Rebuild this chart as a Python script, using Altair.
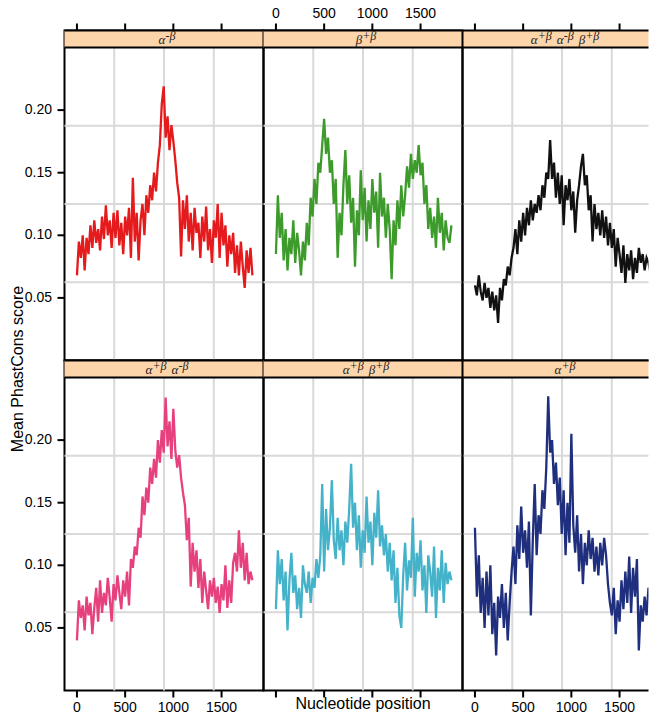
import altair as alt
import pandas as pd

# Nucleotide positions (bins of 20 nt)
positions = list(range(0, 1821, 20))

# Mean PhastCons score per panel
alpha_minus_beta = [
    0.068, 0.095, 0.082, 0.100, 0.072,
    0.098, 0.085, 0.108, 0.090, 0.112,
    0.094, 0.105, 0.088, 0.115, 0.097,
    0.124, 0.100, 0.112, 0.090, 0.118,
    0.098, 0.120, 0.092, 0.110, 0.085,
    0.115, 0.100, 0.122, 0.082, 0.146,
    0.095, 0.118, 0.080, 0.112, 0.125,
    0.100, 0.132, 0.118, 0.140, 0.128,
    0.150, 0.135, 0.158, 0.172, 0.205,
    0.219, 0.178, 0.195, 0.168, 0.188,
    0.175, 0.160, 0.142, 0.130, 0.083,
    0.128, 0.105, 0.132, 0.095, 0.118,
    0.088, 0.122, 0.102, 0.110, 0.082,
    0.115, 0.095, 0.123, 0.088, 0.105,
    0.078, 0.112, 0.098, 0.125, 0.082,
    0.118, 0.092, 0.108, 0.075, 0.100,
    0.085, 0.102, 0.070, 0.092, 0.068,
    0.095, 0.075, 0.058, 0.088, 0.070,
    0.090, 0.068,
]
beta_plus_beta = [
    0.085, 0.132, 0.098, 0.118, 0.080,
    0.105, 0.072, 0.098, 0.085, 0.112,
    0.078, 0.102, 0.088, 0.068, 0.095,
    0.080, 0.110, 0.092, 0.130, 0.115,
    0.145, 0.125, 0.158, 0.150, 0.172,
    0.193, 0.165, 0.178, 0.150, 0.160,
    0.125, 0.145, 0.082, 0.118, 0.100,
    0.140, 0.168, 0.125, 0.148, 0.110,
    0.130, 0.075, 0.120, 0.100, 0.152,
    0.112, 0.138, 0.095, 0.128, 0.105,
    0.145, 0.118, 0.135, 0.090, 0.150,
    0.115, 0.130, 0.098, 0.125, 0.105,
    0.065, 0.112, 0.092, 0.128, 0.105,
    0.140, 0.115, 0.132, 0.155, 0.138,
    0.165, 0.145, 0.160, 0.150, 0.172,
    0.148, 0.158, 0.125, 0.140, 0.105,
    0.122, 0.098, 0.115, 0.090, 0.130,
    0.102, 0.118, 0.088, 0.112, 0.098,
    0.094, 0.108,
]
all_three = [
    0.060, 0.052, 0.068, 0.055, 0.048,
    0.062, 0.050, 0.058, 0.042, 0.055,
    0.040, 0.052, 0.030, 0.058, 0.048,
    0.065, 0.060, 0.075, 0.068, 0.082,
    0.090, 0.105, 0.085, 0.112, 0.095,
    0.118, 0.100, 0.122, 0.108, 0.128,
    0.112, 0.125, 0.118, 0.132, 0.120,
    0.140, 0.130, 0.150, 0.145, 0.176,
    0.145, 0.158, 0.130, 0.150, 0.125,
    0.148, 0.108, 0.140, 0.128, 0.145,
    0.120, 0.135, 0.102, 0.128, 0.140,
    0.155, 0.165, 0.140, 0.148, 0.120,
    0.132, 0.095, 0.125, 0.105, 0.118,
    0.100, 0.120, 0.098, 0.115, 0.092,
    0.110, 0.090, 0.105, 0.075, 0.098,
    0.085, 0.070, 0.092, 0.062, 0.085,
    0.072, 0.088, 0.065, 0.082, 0.070,
    0.090, 0.078, 0.085, 0.072, 0.082,
    0.078, 0.070,
]
alpha_plus_alpha_minus = [
    0.040, 0.072, 0.058, 0.068, 0.048,
    0.075, 0.060, 0.070, 0.045, 0.066,
    0.082, 0.055, 0.088, 0.062, 0.078,
    0.068, 0.090, 0.074, 0.055, 0.085,
    0.072, 0.092, 0.078, 0.065, 0.088,
    0.075, 0.095, 0.068, 0.105, 0.098,
    0.115, 0.108, 0.130, 0.122, 0.155,
    0.140, 0.162, 0.150, 0.178, 0.165,
    0.185, 0.170, 0.200, 0.182, 0.208,
    0.190, 0.234, 0.195, 0.215, 0.185,
    0.225, 0.192, 0.178, 0.188, 0.170,
    0.158, 0.148, 0.120, 0.138, 0.083,
    0.118, 0.095, 0.112, 0.082, 0.105,
    0.070, 0.095, 0.080, 0.065, 0.088,
    0.075, 0.090, 0.070, 0.083, 0.062,
    0.085, 0.072, 0.100, 0.066, 0.088,
    0.070, 0.102, 0.110, 0.095, 0.128,
    0.098, 0.118, 0.088, 0.110, 0.085,
    0.095, 0.088,
]
alpha_plus_beta_plus = [
    0.065, 0.112, 0.085, 0.105, 0.072,
    0.095, 0.048, 0.088, 0.110, 0.078,
    0.092, 0.065, 0.082, 0.058, 0.100,
    0.085, 0.078, 0.095, 0.070, 0.090,
    0.082, 0.105, 0.090, 0.108, 0.165,
    0.095, 0.145, 0.112, 0.130, 0.168,
    0.120, 0.105, 0.138, 0.112, 0.128,
    0.100, 0.135, 0.118, 0.145, 0.181,
    0.130, 0.150, 0.112, 0.140, 0.098,
    0.128, 0.110, 0.155, 0.118, 0.135,
    0.100, 0.142, 0.122, 0.160, 0.115,
    0.132, 0.108, 0.125, 0.095, 0.118,
    0.088, 0.112, 0.070, 0.098, 0.060,
    0.050, 0.092, 0.118, 0.080, 0.104,
    0.090, 0.138, 0.075, 0.110, 0.095,
    0.120, 0.080, 0.100, 0.062, 0.108,
    0.095, 0.075, 0.115, 0.058, 0.098,
    0.080, 0.112, 0.070, 0.102, 0.085,
    0.095, 0.088,
]
alpha_plus_beta = [
    0.130, 0.075, 0.108, 0.062, 0.090,
    0.050, 0.095, 0.060, 0.100, 0.045,
    0.070, 0.028, 0.075, 0.058, 0.085,
    0.050, 0.078, 0.040, 0.070, 0.095,
    0.115, 0.085, 0.132, 0.105, 0.147,
    0.110, 0.128, 0.098, 0.135, 0.060,
    0.120, 0.165, 0.108, 0.140, 0.125,
    0.160, 0.145, 0.178, 0.235, 0.190,
    0.200, 0.165, 0.182, 0.148, 0.170,
    0.125, 0.160, 0.108, 0.150, 0.118,
    0.205, 0.132, 0.110, 0.140, 0.095,
    0.125, 0.085, 0.118, 0.100, 0.128,
    0.105, 0.122, 0.095, 0.115, 0.092,
    0.118, 0.100, 0.122, 0.108, 0.085,
    0.070, 0.060, 0.082, 0.045, 0.072,
    0.055, 0.088, 0.065, 0.095, 0.070,
    0.107, 0.062, 0.098, 0.075, 0.105,
    0.032, 0.068, 0.055, 0.075, 0.060,
    0.082, 0.078,
]

panel_series = [alpha_minus_beta, beta_plus_beta, all_three,
                alpha_plus_alpha_minus, alpha_plus_beta_plus, alpha_plus_beta]
# strip labels: (base letter, superscript) pairs
panel_labels = [
    [("α", "-β")],
    [("β", "+β")],
    [("α", "+β"), ("α", "-β"), ("β", "+β")],
    [("α", "+β"), ("α", "-β")],
    [("α", "+β"), ("β", "+β")],
    [("α", "+β")],
]
panel_colors = ["#E41A1C", "#3D9B2B", "#111111", "#E7407E", "#44B3CA", "#1F2F7D"]
y_title = "Mean PhastCons score"
x_title = "Nucleotide position"

x_ticks = [0, 500, 1000, 1500]
x_tick_labels = ["0", "500", "1000", "1500"]
y_ticks = [0.05, 0.10, 0.15, 0.20]
y_tick_labels = ["0.05", "0.10", "0.15", "0.20"]
x_grid = [387, 903, 1419]
y_grid = [0.0625, 0.125, 0.1875]

W_FULL, H, S = 199, 330, 17
W_LAST = 186                      # the right-hand column is cut by the frame
PX_PER_UNIT = W_FULL / 2064.0
X_LEFT = -129
Y_TOP = 0.25 * H / (H - S)        # top S px above 0.25 hold the strip
PEACH = "#FDD5AB"
GRID = "#D9D9D9"
NARROW = "Liberation Sans Narrow, Arial Narrow, Liberation Sans, sans-serif"
SANS = "Liberation Sans, Arial, sans-serif"
SERIF = "Liberation Serif, Times New Roman, serif"
TICK_FS = 14

BASE_FS, SUP_FS, RAISE = 13, 12, 4
CHAR_W = {"α": 0.53, "β": 0.50, "+": 0.675, "-": 0.333}
SPACE_W = 5.0


def seg_width(text, fs):
    return sum(CHAR_W.get(c, 0.5) for c in text) * fs


def strip_text_layers(label):
    segs = []
    for i, (base, sup) in enumerate(label):
        segs.append((base, False, SPACE_W if i > 0 else 0.0))
        segs.append((sup, True, 0.0))
    total = sum(seg_width(t, SUP_FS if s else BASE_FS) + g for t, s, g in segs)
    x0 = W_FULL / 2 + 3 - total / 2
    layers = []
    one = pd.DataFrame({"k": [0]})
    for t, s, gap in segs:
        x0 += gap
        layers.append(
            alt.Chart(one).mark_text(
                font=SERIF, fontStyle="italic", fontSize=SUP_FS if s else BASE_FS,
                baseline="alphabetic", align="left", color="#222222").encode(
                x=alt.value(x0), y=alt.value(13.5 - (RAISE if s else 0)),
                text=alt.value(t))
        )
        x0 += seg_width(t, SUP_FS if s else BASE_FS)
    return layers


def make_panel(values, color, label, row, col):
    W = W_LAST if col == 2 else W_FULL
    xs = alt.Scale(domain=[X_LEFT, X_LEFT + W / PX_PER_UNIT], nice=False, zero=False)
    ys = alt.Scale(domain=[0, Y_TOP], nice=False, zero=False)

    df = pd.DataFrame({"pos": positions, "val": values})
    one = pd.DataFrame({"k": [0]})
    xt = pd.DataFrame({"t": x_ticks, "lab": x_tick_labels})
    yt = pd.DataFrame({"t": y_ticks, "lab": y_tick_labels})

    layers = []
    layers.append(alt.Chart(pd.DataFrame({"g": x_grid})).mark_rule(
        color=GRID, strokeWidth=2).encode(
        x=alt.X("g:Q", scale=xs, axis=None), y=alt.value(S), y2=alt.value(H)))
    layers.append(alt.Chart(pd.DataFrame({"g": y_grid})).mark_rule(
        color=GRID, strokeWidth=2).encode(
        y=alt.Y("g:Q", scale=ys, axis=None), x=alt.value(0), x2=alt.value(W)))
    layers.append(alt.Chart(df).mark_line(color=color, strokeWidth=2.3, clip=True).encode(
        x=alt.X("pos:Q", scale=xs, axis=None),
        y=alt.Y("val:Q", scale=ys, axis=None),
    ))
    layers.append(alt.Chart(one).mark_rect(fill=PEACH).encode(
        x=alt.value(0), x2=alt.value(W), y=alt.value(0), y2=alt.value(S)))
    layers.append(alt.Chart(one).mark_rule(color="black", strokeWidth=2).encode(
        x=alt.value(0), x2=alt.value(W), y=alt.value(S)))
    layers.append(alt.Chart(one).mark_rule(color="black", strokeWidth=2).encode(
        x=alt.value(0), x2=alt.value(W), y=alt.value(0)))
    if col == 2:
        # border of the cut column: left and bottom edges only
        layers.append(alt.Chart(one).mark_rule(color="black", strokeWidth=2).encode(
            x=alt.value(0), y=alt.value(0), y2=alt.value(H)))
        layers.append(alt.Chart(one).mark_rule(color="black", strokeWidth=2).encode(
            x=alt.value(0), x2=alt.value(W), y=alt.value(H)))

    # x ticks and labels (lattice style: alternating)
    if row == 0:
        layers.append(alt.Chart(xt).mark_rule(color="black", strokeWidth=2).encode(
            x=alt.X("t:Q", scale=xs, axis=None), y=alt.value(-7), y2=alt.value(0)))
        if col == 1:
            layers.append(alt.Chart(xt).mark_text(
                font=NARROW, fontSize=TICK_FS, baseline="alphabetic", align="center",
                color="black").encode(
                x=alt.X("t:Q", scale=xs, axis=None), y=alt.value(-12.5), text="lab:N"))
    else:
        layers.append(alt.Chart(xt).mark_rule(color="black", strokeWidth=2).encode(
            x=alt.X("t:Q", scale=xs, axis=None), y=alt.value(H), y2=alt.value(H + 7)))
        if col != 1:
            layers.append(alt.Chart(xt).mark_text(
                font=NARROW, fontSize=TICK_FS, baseline="alphabetic", align="center",
                color="black").encode(
                x=alt.X("t:Q", scale=xs, axis=None), y=alt.value(H + 21.5), text="lab:N"))
    # y ticks and labels on the left column
    if col == 0:
        layers.append(alt.Chart(yt).mark_rule(color="black", strokeWidth=2).encode(
            y=alt.Y("t:Q", scale=ys, axis=None), x=alt.value(-7), x2=alt.value(0)))
        layers.append(alt.Chart(yt).mark_text(
            font=NARROW, fontSize=TICK_FS, baseline="middle", align="right",
            color="black").encode(
            y=alt.Y("t:Q", scale=ys, axis=None), x=alt.value(-12.5), text="lab:N"))

    layers.extend(strip_text_layers(label))
    if row == 0 and col == 0:
        layers.append(alt.Chart(one).mark_text(
            font=SANS, fontSize=16, angle=270, baseline="alphabetic", align="center",
            color="black").encode(
            x=alt.value(-41.5), y=alt.value(H + 8.5), text=alt.value(y_title)))
    if row == 1 and col == 1:
        layers.append(alt.Chart(one).mark_text(
            font=SANS, fontSize=16, baseline="alphabetic", align="center",
            color="black").encode(
            x=alt.value(W / 2), y=alt.value(H + 18.7), text=alt.value(x_title)))
    props = dict(width=W, height=H)
    if col == 2:
        props["view"] = alt.ViewBackground(stroke="transparent")
    return alt.layer(*layers).properties(**props)


panels = [make_panel(panel_series[i], panel_colors[i], panel_labels[i], i // 3, i % 3)
          for i in range(6)]

chart = alt.concat(*panels, columns=3, spacing=0, bounds="flush").properties(
    padding={"left": 0.5, "top": -2.5, "right": 0, "bottom": 0}
).configure_view(
    stroke="black", strokeWidth=2
)

chart.save("out.html", embed_options={"renderer": "svg", "actions": False})
